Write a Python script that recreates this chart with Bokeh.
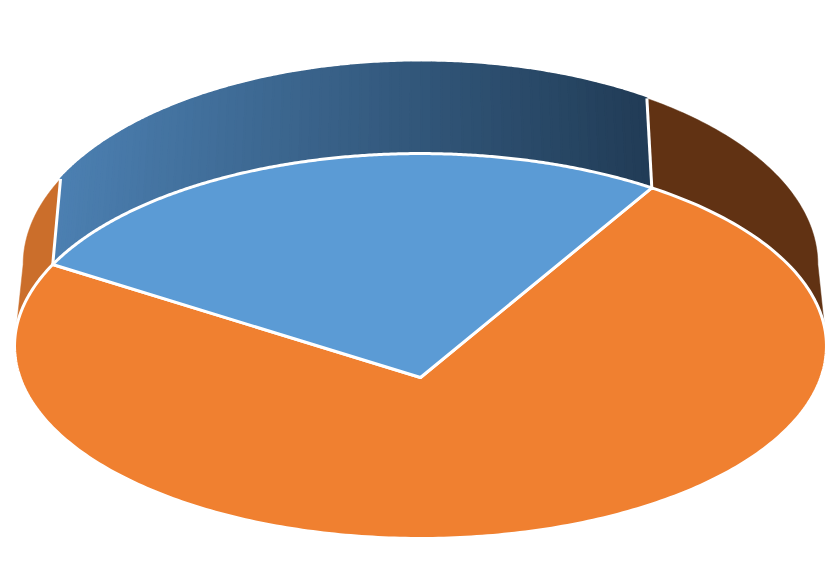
import numpy as np
from bokeh.plotting import figure
from bokeh.models import ColumnDataSource, Range1d
from bokeh.embed import file_html
from bokeh.resources import INLINE

# Chart data: pie shares, clockwise from the first slice's start
categories = ["Orange slice", "Blue slice"]
shares = [76, 24]
face_colors = ["#F08030", "#5B9BD5"]
start_angle_deg = 29.7

# Projection of the unit disc onto the page (perspective ellipse), in page pixels
K = -0.1636
CX = 420.0
FACE = dict(A=400.5, B=187.3, Y0=377.0)
RIM = dict(A=392.0, B=196.6, Y0=297.0)
SILHOUETTE = np.degrees(np.arccos(-K))   # angle from the top at which the wall ends


def project(theta_deg, m):
    t = np.radians(np.asarray(theta_deg, dtype=float))
    u, v = np.sin(t), np.cos(t)
    w = 1 + K * v
    return CX + m["A"] * u / w, m["Y0"] - m["B"] * v / w


def mix(c0, c1, f):
    r = [int(round(a + (b - a) * f)) for a, b in zip(c0, c1)]
    return "#%02x%02x%02x" % tuple(r)


# Slice boundaries derived from the shares
fracs = np.cumsum([0] + shares) / sum(shares)
bounds = start_angle_deg + 360 * fracs
orange_start, orange_end = bounds[0], bounds[1]       # clockwise
blue_start, blue_end = bounds[1] - 360, bounds[2] - 360  # through the top

p = figure(width=838, height=584, output_backend="svg", toolbar_location=None,
           x_range=Range1d(0, 838), y_range=Range1d(584, 0),
           min_border=0, outline_line_color=None, background_fill_color="white")
p.axis.visible = False
p.grid.visible = False


def wall(a0, a1, color_fn, n, lw):
    edges = np.linspace(a0, a1, n + 1)
    xs, ys, cs = [], [], []
    for i in range(n):
        th = np.linspace(edges[i], edges[i + 1], 4 if n > 1 else 80)
        xl, yl = project(th, FACE)
        xu, yu = project(th, RIM)
        xs.append(list(xl) + list(xu[::-1]))
        ys.append(list(yl) + list(yu[::-1]))
        cs.append(color_fn(xu.mean()))
    src = ColumnDataSource(dict(x=xs, y=ys, c=cs))
    p.patches("x", "y", source=src, fill_color="c", line_color="c", line_width=lw)


BLUE_L, BLUE_R = (76, 128, 178), (33, 60, 86)
x_l = project([blue_start], RIM)[0][0]
x_r = project([orange_start], RIM)[0][0]

# back wall, three pieces split at the slice boundaries
wall(orange_start, SILHOUETTE, lambda x: "#613213", 1, 0.5)
wall(-SILHOUETTE, blue_start, lambda x: "#CB6E2B", 1, 0.5)
wall(blue_start, blue_end, lambda x: mix(BLUE_L, BLUE_R, np.clip((x - x_l) / (x_r - x_l), 0, 1)), 70, 2)

# white seams on the wall
for a in (blue_start, blue_end):
    xl, yl = project([a], FACE)
    xu, yu = project([a], RIM)
    p.line([xl[0], xu[0]], [yl[0], yu[0]], line_color="white", line_width=3)

# top faces
for a0, a1, col in ((orange_start, orange_end, face_colors[0]),
                    (blue_start, blue_end, face_colors[1])):
    th = np.linspace(a0, a1, 300)
    x, y = project(th, FACE)
    ax, ay = CX, FACE["Y0"]
    p.patch(list(x) + [ax], list(y) + [ay], fill_color=col,
            line_color="white", line_width=3, line_join="round")

open("out.html", "w").write(file_html(p, INLINE))
